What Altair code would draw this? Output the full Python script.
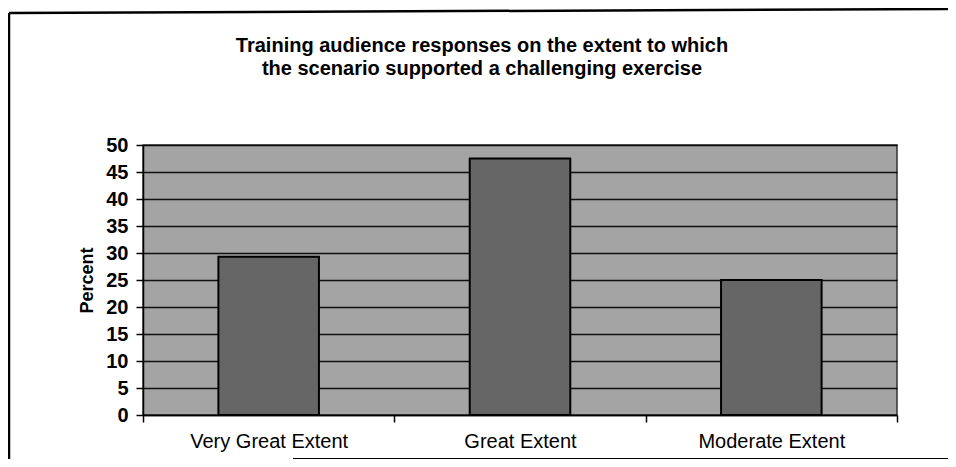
import altair as alt
import pandas as pd

categories = ["Very Great Extent", "Great Extent", "Moderate Extent"]
percents = [29.3, 47.5, 25.0]
y_ticks = [0, 5, 10, 15, 20, 25, 30, 35, 40, 45, 50]
title_line1 = "Training audience responses on the extent to which"
title_line2 = "the scenario supported a challenging exercise"

df = pd.DataFrame({"category": categories, "percent": percents})
one = pd.DataFrame({"k": [0]})

W, H = 754, 270
FONT = "Liberation Sans"

bars = alt.Chart(df).mark_bar(color="#666666", stroke="black", strokeWidth=2,
                              width=alt.RelativeBandSize(0.4)).encode(
    x=alt.X("category:N", sort=categories,
            scale=alt.Scale(paddingInner=0, paddingOuter=0),
            axis=alt.Axis(title=None, labelAngle=0, tickBand="extent", tickSize=7,
                          labelPadding=9, labelFontSize=20, labelColor="black",
                          labelFont=FONT, domainColor="black",
                          domainWidth=1.5, tickColor="black", tickWidth=1.5, grid=False)),
    y=alt.Y("percent:Q", scale=alt.Scale(domain=[0, 50], nice=False),
            axis=alt.Axis(values=y_ticks, title="Percent", tickSize=7, labelPadding=8,
                          labelFontSize=20, labelFontWeight="bold", labelColor="black",
                          labelFont=FONT, titleFont=FONT,
                          titleFontSize=18, titleFontWeight="bold", titleColor="black",
                          titlePadding=9, domainColor="black", domainWidth=1.5,
                          tickColor="black", tickWidth=1.5, grid=True, gridColor="black",
                          gridWidth=1.5, gridOpacity=0.9)),
)

t1 = alt.Chart(one).mark_text(text=title_line1, font=FONT, fontSize=20, fontWeight="bold",
                              color="black", align="center", baseline="middle").encode(
    x=alt.value(339), y=alt.value(-99))
t2 = alt.Chart(one).mark_text(text=title_line2, font=FONT, fontSize=20, fontWeight="bold",
                              color="black", align="center", baseline="middle").encode(
    x=alt.value(339), y=alt.value(-76))

frame_left = alt.Chart(one).mark_rule(color="black", strokeWidth=2.5).encode(
    x=alt.value(-134), y=alt.value(-132), y2=alt.value(H + 44))
frame_top = alt.Chart(one).mark_rule(color="black", strokeWidth=2.5).encode(
    x=alt.value(-134), x2=alt.value(W + 55), y=alt.value(-132), y2=alt.value(-136))
frame_bottom = alt.Chart(one).mark_rule(color="black", strokeWidth=2).encode(
    x=alt.value(150), x2=alt.value(W + 55), y=alt.value(H + 44), y2=alt.value(H + 44))

chart = alt.layer(bars, t1, t2, frame_left, frame_top, frame_bottom).properties(
    width=W, height=H,
    autosize=alt.AutoSizeParams(type="none"),
    padding={"left": 135, "top": 137, "right": 51, "bottom": 44},
).configure_view(fill="#a4a4a4", stroke="#333333", strokeWidth=1.5)

chart.save("out.html", embed_options={"renderer": "svg", "actions": False})
